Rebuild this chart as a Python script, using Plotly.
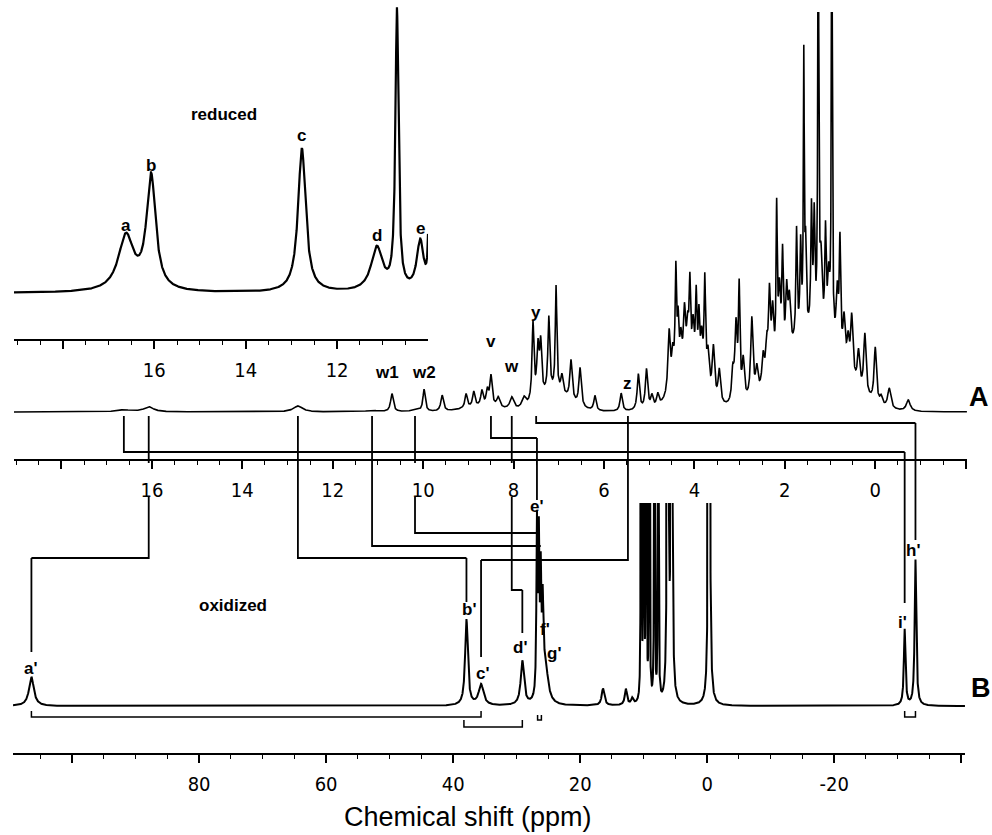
import numpy as np
import plotly.graph_objects as go

# ---------------- data ----------------
# Reduced protein, low-field expansion (inset): peak positions (ppm), heights, half-widths
inset_ppm    = [16.62, 16.07, 12.77, 11.13, 10.69, 10.18, 9.98]
inset_height = [55, 114, 144, 44, 279, 50, 150]
inset_width  = [0.20, 0.12, 0.10, 0.15, 0.040, 0.09, 0.02]

# Spectrum A (reduced, full range): resolved peaks
a_ppm = [16.62, 16.07, 12.77, 11.13, 10.69, 10.18, 9.98, 9.58, 9.05, 8.88, 8.70, 8.58,
         8.50, 8.34, 8.04, 7.77, 7.57, 7.46, 7.40, 7.22, 7.06, 6.93, 6.73, 6.53, 6.20,
         5.62, 5.24, 5.06, 4.94, 4.81,
         4.56, 4.48, 4.41, 4.36, 4.30, 4.22, 4.15, 4.10, 4.03, 3.96, 3.90, 3.84, 3.77,
         3.70, 3.58, 3.45, 3.15, 3.08, 3.01, 2.92, 2.73, 2.62, 2.48, 2.40, 2.34, 2.27,
         2.18, 2.12, 2.05, 1.96, 1.90, 1.74, 1.65, 1.58, 1.54, 1.41, 1.35, 1.26, 1.20,
         1.10, 1.03, 0.96, 0.84, 0.78, 0.69, 0.60, 0.52, 0.37, 0.23, 0.00, -0.13,
         -0.31, -0.73]
a_height = [2, 5, 6, 1.5, 18, 2, 22, 16, 14, 15, 15, 15,
            30, 10, 12, 10, 78, 50, 50, 75, 105, 18, 40, 38, 15,
            18, 36, 40, 12, 12,
            62, 32, 110, 52, 37, 62, 42, 82, 47, 77, 57, 42, 102,
            35, 50, 32, 30, 75, 110, 40, 80, 25, 30, 35, 80, 60,
            150, 70, 100, 60, 50, 110, 90, 270, 80, 120, 110, 480, 70,
            100, 60, 480, 60, 110, 45, 30, 60, 35, 60, 55, 8,
            20, 11]
a_width = [0.20, 0.13, 0.12, 0.15, 0.035, 0.10, 0.03, 0.035, 0.03, 0.03, 0.03, 0.03,
           0.03, 0.04, 0.05, 0.05, 0.025, 0.03, 0.025, 0.025, 0.02, 0.03, 0.03, 0.03, 0.03,
           0.03, 0.03, 0.03, 0.03, 0.03,
           0.03, 0.03, 0.02, 0.02, 0.03, 0.03, 0.03, 0.02, 0.03, 0.02, 0.02, 0.03, 0.02,
           0.03, 0.03, 0.03, 0.03, 0.03, 0.02, 0.03, 0.03, 0.03, 0.03, 0.03, 0.025, 0.03,
           0.015, 0.03, 0.02, 0.025, 0.03, 0.018, 0.018, 0.012, 0.018, 0.018, 0.018, 0.012, 0.03,
           0.018, 0.03, 0.012, 0.03, 0.018, 0.03, 0.03, 0.03, 0.03, 0.03, 0.03, 0.03,
           0.04, 0.05]
# Spectrum A: broad unresolved envelopes (ppm, height, sigma)
env_ppm    = [1.4, 4.1, 7.1, 8.7]
env_height = [74, 30, 18, 5]
env_sigma  = [0.65, 0.35, 0.35, 0.40]

# Spectrum B (oxidized, hyperfine-shifted)
b_ppm = [106.4, 37.9, 35.6, 29.1, 26.8, 26.5, 26.2, 25.9, 25.5, 16.4, 12.8, 11.8,
         10.4, 10.0, 9.6, 9.1, 8.3, 7.7, 6.2, 5.6, -0.3, -31.1, -32.8]
b_height = [29, 86, 21, 44, 170, 150, 110, 80, 40, 17, 16, 6,
            3000, 3000, 3000, 3000, 3000, 3000, 14000, 14000, 3000, 76, 146]
b_width = [0.45, 0.25, 0.45, 0.30, 0.10, 0.10, 0.10, 0.12, 0.50, 0.25, 0.20, 0.20,
           0.02, 0.02, 0.02, 0.02, 0.02, 0.02, 0.02, 0.02, 0.05, 0.15, 0.15]

# Axis ranges (ppm)
inset_range = [19.07, 10.01]
a_range = [19.05, -2.03]
b_range = [109.3, -40.6]

# Peak labels
inset_labels = ["a", "b", "c", "d", "e"]
inset_label_ppm = [16.62, 16.07, 12.77, 11.13, 10.18]
a_labels = ["w1", "w2", "v", "w", "y", "z"]
a_label_ppm = [10.80, 9.98, 8.50, 8.04, 7.50, 5.47]
b_labels = ["a'", "b'", "c'", "d'", "e'", "f'", "g'", "h'", "i'"]
b_label_ppm = [106.4, 37.5, 35.3, 29.4, 26.8, 25.5, 24.1, -32.4, -30.7]

# Assignment links: reduced-state shift (A axis) -> oxidized-state shift (B axis)
link_from = [16.62, 16.07, 12.77, 11.13, 10.18, 8.50, 8.04, 7.50, 5.47]
link_to   = [-31.1, 106.4, 37.9, 26.2, 26.5, 26.8, 29.1, -32.8, 35.6]

# ---------------- geometry helpers ----------------
W, H = 992, 835
dom_b = [13 / W, 965 / W]
dom_a = [14 / W, 967 / W]
dom_i = [14 / W, 428 / W]


def py(px):
    return 1 - px / H


def to_paper(p, rng, dom):
    return dom[0] + (rng[0] - p) / (rng[0] - rng[1]) * (dom[1] - dom[0])


def xa(p):
    return to_paper(p, a_range, dom_a) * W


def xb(p):
    return to_paper(p, b_range, dom_b) * W


def lorentz(grid, c, h, w):
    c = np.asarray(c)[:, None]
    h = np.asarray(h)[:, None]
    w = np.asarray(w)[:, None]
    return (h * w**2 / (w**2 + (grid[None, :] - c) ** 2)).sum(axis=0)


def gauss(grid, c, h, s):
    c = np.asarray(c)[:, None]
    h = np.asarray(h)[:, None]
    s = np.asarray(s)[:, None]
    return (h * np.exp(-((grid[None, :] - c) ** 2) / (2 * s**2))).sum(axis=0)


g_i = np.linspace(inset_range[0], inset_range[1], 4000)
s_i = lorentz(g_i, inset_ppm, inset_height, inset_width)

g_a = np.arange(a_range[0], a_range[1], -0.002)
s_a = lorentz(g_a, a_ppm, a_height, a_width) + gauss(g_a, env_ppm, env_height, env_sigma)

g_b = np.arange(b_range[0], b_range[1], -0.008)
s_b = lorentz(g_b, b_ppm, b_height, b_width)

fig = go.Figure()
fig.add_trace(go.Scatter(x=g_b, y=s_b, mode="lines", xaxis="x", yaxis="y",
                         line=dict(color="black", width=2), hoverinfo="skip"))
fig.add_trace(go.Scatter(x=g_a, y=s_a, mode="lines", xaxis="x2", yaxis="y2",
                         line=dict(color="black", width=1.6), hoverinfo="skip"))
fig.add_trace(go.Scatter(x=g_i, y=s_i, mode="lines", xaxis="x3", yaxis="y3",
                         line=dict(color="black", width=2.2), hoverinfo="skip"))

tick_font = dict(family="DejaVu Sans Condensed, Liberation Sans Narrow, Liberation Sans",
                 size=20, color="black")
axis_common = dict(showgrid=False, zeroline=False, showline=True, linecolor="black",
                   linewidth=2, ticks="outside", ticklen=8, tickwidth=1.6,
                   tickcolor="black", tickfont=tick_font, ticklabelstandoff=4)

fig.update_layout(
    width=W, height=H, margin=dict(l=0, r=0, t=0, b=0),
    paper_bgcolor="white", plot_bgcolor="rgba(0,0,0,0)", showlegend=False,
    xaxis=dict(domain=dom_b, range=b_range, anchor="y",
               tickmode="array", tickvals=[100, 80, 60, 40, 20, 0, -20, -40],
               ticktext=["", "80", "60", "40", "20", "0", "-20", ""],
               minor=dict(tickmode="linear", tick0=0, dtick=5, ticks="outside",
                          ticklen=4, tickwidth=1.3, tickcolor="black"),
               **axis_common),
    yaxis=dict(domain=[py(753), py(503)], range=[-47, 203], visible=False, anchor="x"),
    xaxis2=dict(domain=dom_a, range=a_range, anchor="y2",
                tickmode="array", tickvals=[18, 16, 14, 12, 10, 8, 6, 4, 2, 0, -2],
                ticktext=["", "16", "14", "12", "10", "8", "6", "4", "2", "0", ""],
                minor=dict(tickmode="linear", tick0=0, dtick=0.5, ticks="outside",
                           ticklen=4, tickwidth=1.3, tickcolor="black"),
                **axis_common),
    yaxis2=dict(domain=[py(459), py(12)], range=[-47, 400], visible=False, anchor="x2"),
    xaxis3=dict(domain=dom_i, range=inset_range, anchor="y3",
                tickmode="array", tickvals=[18, 16, 14, 12, 10],
                ticktext=["", "16", "14", "12", ""],
                minor=dict(tickmode="linear", tick0=0, dtick=0.5, ticks="outside",
                           ticklen=4, tickwidth=1.3, tickcolor="black"),
                **axis_common),
    yaxis3=dict(domain=[py(339), 1], range=[-46, 293], visible=False, anchor="x3"),
)

# ---------------- assignment connectors ----------------
# (y of turn, y where the oxidized-side line ends, optional label gap on A side,
#  optional label gap on B side) -- in pixels from top
routes = [
    dict(turn=452, end=603),                      # a  -> i'
    dict(turn=558, end=652, gap_a=(463, 497)),    # b  -> a'
    dict(turn=558, end=602),                      # c  -> b'
    dict(turn=546, end=546),                      # d  -> f'
    dict(turn=533, end=533, gap_a=(463, 497)),    # e  -> e'
    dict(turn=438, end=532, gap_b=(500, 517)),    # v  -> e'
    dict(turn=590, end=633, gap_a=(463, 497)),    # w  -> d'
    dict(turn=423, end=540),                      # y  -> h'
    dict(turn=560, end=657),                      # z  -> c'
]
start_y = 416


def P(x, y):
    return f"{x / W:.5f},{py(y):.5f}"


for pa, pb, r in zip(link_from, link_to, routes):
    x0, x1 = xa(pa), xb(pb)
    segs = []
    if "gap_a" in r:
        g0, g1 = r["gap_a"]
        segs.append(f"M{P(x0, start_y)} L{P(x0, g0)}")
        segs.append(f"M{P(x0, g1)} L{P(x0, r['turn'])} L{P(x1, r['turn'])}")
    else:
        segs.append(f"M{P(x0, start_y)} L{P(x0, r['turn'])} L{P(x1, r['turn'])}")
    if r["end"] != r["turn"]:
        if "gap_b" in r:
            g0, g1 = r["gap_b"]
            segs.append(f"M{P(x1, r['turn'])} L{P(x1, g0)}")
            segs.append(f"M{P(x1, g1)} L{P(x1, r['end'])}")
        else:
            segs.append(f"M{P(x1, r['turn'])} L{P(x1, r['end'])}")
    fig.add_shape(type="path", xref="paper", yref="paper", path=" ".join(segs),
                  line=dict(color="black", width=1.8))

# Brackets under the oxidized spectrum
brackets = [(106.4, 35.6, 717, 711), (38.3, 29.1, 727, 720), (-31.1, -32.8, 717, 711),
            (26.7, 26.1, 720, 715)]
for p0, p1, yb, yt in brackets:
    path = f"M{P(xb(p0), yt)} L{P(xb(p0), yb)} L{P(xb(p1), yb)} L{P(xb(p1), yt)}"
    fig.add_shape(type="path", xref="paper", yref="paper", path=path,
                  line=dict(color="black", width=1.5))

# ---------------- text ----------------
bold = dict(family="Liberation Sans, Arial, sans-serif", size=17, color="black", weight="bold")


def note(text, x, y, xref="paper", font=bold):
    fig.add_annotation(text=text, x=x, y=py(y), xref=xref, yref="paper",
                       showarrow=False, font=font, xanchor="center", yanchor="middle")


inset_label_y = [225, 165, 135, 236, 229]
for t, p, y in zip(inset_labels, inset_label_ppm, inset_label_y):
    note(t, p, y, xref="x3")

a_label_y = [372, 372, 341, 366, 312, 383]
for t, p, y in zip(a_labels, a_label_ppm, a_label_y):
    note(t, p, y, xref="x2")

b_label_y = [668, 609, 673, 647, 507, 629, 653, 550, 622]
for t, p, y in zip(b_labels, b_label_ppm, b_label_y):
    note(t, p, y, xref="x")

note("reduced", 224 / W, 114)
note("oxidized", 233 / W, 605)
big = dict(bold, size=27)
note("A", 979 / W, 397, font=big)
note("B", 981 / W, 688, font=big)
note("Chemical shift (ppm)", 468 / W, 817,
     font=dict(family="Liberation Sans, Arial, sans-serif", size=27, color="black"))

fig.write_html("out.html")
